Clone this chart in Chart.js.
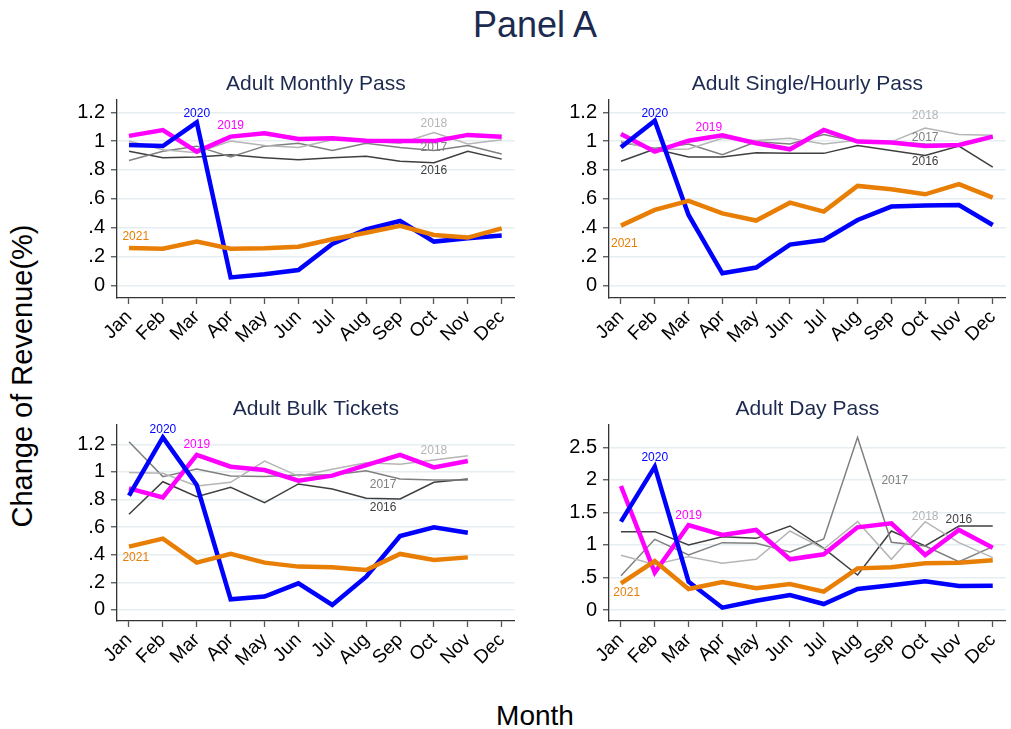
<!DOCTYPE html>
<html>
<head>
<meta charset="utf-8">
<script src="https://cdn.jsdelivr.net/npm/chart.js@4.4.1/dist/chart.umd.min.js"></script>
<style>
  body { margin: 0; background: #fff; font-family: "Liberation Sans", Arial, sans-serif; }
  #wrap { position: relative; width: 1011px; height: 729px; overflow: hidden; }
  canvas { position: absolute; }
  .txt { position: absolute; white-space: nowrap; line-height: 1; }
  #mainTitle { left: 535px; top: 25px; transform: translate(-50%, -50%); font-size: 36px; color: #1c2a4f; }
  #xTitle { left: 535px; top: 716px; transform: translate(-50%, -50%); font-size: 28px; color: #000; }
  #yTitle { left: 22px; top: 376px; transform: translate(-50%, -50%) rotate(-90deg); font-size: 29px; color: #000; }
</style>
</head>
<body>
<div id="wrap">
  <div class="txt" id="mainTitle">Panel A</div>
  <div class="txt" id="yTitle">Change of Revenue(%)</div>
  <div class="txt" id="xTitle">Month</div>
  <canvas id="c1" width="520" height="290" style="left:0;top:60px"></canvas>
  <canvas id="c2" width="491" height="290" style="left:520px;top:60px"></canvas>
  <canvas id="c3" width="520" height="330" style="left:0;top:350px"></canvas>
  <canvas id="c4" width="491" height="330" style="left:520px;top:350px"></canvas>
</div>
<script>
const months = ['Jan', 'Feb', 'Mar', 'Apr', 'May', 'Jun', 'Jul', 'Aug', 'Sep', 'Oct', 'Nov', 'Dec'];
const years = ['2016', '2017', '2018', '2019', '2020', '2021'];

// Adult Monthly Pass
const monthly2016 = [0.93, 0.885, 0.89, 0.905, 0.885, 0.87, 0.885, 0.895, 0.86, 0.85, 0.93, 0.875];
const monthly2017 = [0.865, 0.93, 0.965, 0.89, 0.965, 0.985, 0.935, 0.985, 0.955, 0.935, 0.97, 0.91];
const monthly2018 = [1.0, 0.94, 0.92, 1.0, 0.97, 0.955, 1.01, 1.0, 0.985, 1.06, 0.98, 1.01];
const monthly2019 = [1.036, 1.077, 0.927, 1.031, 1.054, 1.015, 1.02, 1.003, 1.0, 1.0, 1.043, 1.031];
const monthly2020 = [0.973, 0.966, 1.13, 0.055, 0.076, 0.106, 0.287, 0.388, 0.446, 0.303, 0.326, 0.345];
const monthly2021 = [0.259, 0.254, 0.303, 0.254, 0.257, 0.268, 0.319, 0.365, 0.412, 0.349, 0.331, 0.395];

// Adult Single/Hourly Pass
const single2016 = [0.86, 0.945, 0.89, 0.89, 0.92, 0.915, 0.915, 0.97, 0.935, 0.9, 0.965, 0.82];
const single2017 = [0.99, 0.95, 0.98, 0.905, 0.995, 0.98, 1.045, 0.995, 0.995, 0.98, 0.975, 1.03];
const single2018 = [1.0, 0.94, 0.945, 1.02, 1.005, 1.02, 0.98, 1.005, 0.995, 1.09, 1.045, 1.04];
const single2019 = [1.05, 0.927, 1.003, 1.04, 0.985, 0.943, 1.077, 0.997, 0.99, 0.966, 0.973, 1.031];
const single2020 = [0.957, 1.142, 0.488, 0.083, 0.123, 0.282, 0.314, 0.453, 0.546, 0.553, 0.557, 0.418];
const single2021 = [0.414, 0.523, 0.585, 0.499, 0.449, 0.573, 0.511, 0.689, 0.666, 0.631, 0.701, 0.608];

// Adult Bulk Tickets (no December)
const bulk2016 = [0.693, 0.929, 0.821, 0.888, 0.777, 0.913, 0.876, 0.809, 0.804, 0.925, 0.949];
const bulk2017 = [1.219, 0.966, 1.021, 0.97, 0.966, 0.978, 0.978, 1.009, 0.949, 0.942, 0.942];
const bulk2018 = [0.995, 0.99, 0.898, 0.925, 1.079, 0.97, 1.019, 1.067, 1.055, 1.086, 1.118];
const bulk2019 = [0.881, 0.816, 1.123, 1.038, 1.014, 0.937, 0.973, 1.05, 1.123, 1.033, 1.079];
const bulk2020 = [0.828, 1.25, 0.905, 0.077, 0.097, 0.193, 0.036, 0.241, 0.536, 0.599, 0.56];
const bulk2021 = [0.459, 0.517, 0.343, 0.406, 0.343, 0.314, 0.309, 0.29, 0.406, 0.362, 0.381];

// Adult Day Pass
const day2016 = [1.204, 1.204, 0.999, 1.127, 1.101, 1.291, 0.948, 0.538, 1.214, 0.984, 1.291, 1.291];
const day2017 = [0.528, 1.086, 0.845, 1.035, 1.025, 0.891, 1.091, 2.654, 1.04, 0.984, 0.743, 0.973];
const day2018 = [0.84, 0.70, 0.82, 0.717, 0.779, 1.214, 0.938, 1.358, 0.779, 1.358, 1.035, 0.804];
const day2019 = [1.906, 0.574, 1.306, 1.153, 1.23, 0.779, 0.856, 1.27, 1.332, 0.845, 1.23, 0.958];
const day2020 = [1.358, 2.203, 0.435, 0.036, 0.143, 0.231, 0.092, 0.323, 0.379, 0.441, 0.369, 0.374];
const day2021 = [0.41, 0.753, 0.323, 0.43, 0.333, 0.4, 0.282, 0.64, 0.656, 0.717, 0.727, 0.763];

const ticksSmall = [0, 0.2, 0.4, 0.6, 0.8, 1, 1.2];
const ticksDay = [0, 0.5, 1, 1.5, 2, 2.5];

const colors = {
  '2016': '#3f3f3f', '2017': '#7f7f7f', '2018': '#b5b5b5',
  '2019': '#ff00ff', '2020': '#0000ff', '2021': '#e87e04'
};
const widths = { '2016': 1.5, '2017': 1.5, '2018': 1.5, '2019': 4.5, '2020': 4.5, '2021': 4.5 };

// where each year's name sits (month number, value)
const monthlyTags = [['2020', 3, 1.19], ['2019', 4, 1.105], ['2018', 10, 1.124], ['2017', 10, 0.955], ['2016', 10, 0.795], ['2021', 1.2, 0.338]];
const singleTags = [['2020', 2, 1.188], ['2019', 3.6, 1.096], ['2018', 10, 1.175], ['2017', 10, 1.024], ['2016', 10, 0.855], ['2021', 1.1, 0.291]];
const bulkTags = [['2020', 2, 1.304], ['2019', 3, 1.2], ['2018', 10, 1.154], ['2017', 8.5, 0.905], ['2016', 8.5, 0.744], ['2021', 1.2, 0.379]];
const dayTags = [['2020', 2, 2.341], ['2019', 3, 1.445], ['2017', 9.1, 1.983], ['2018', 10, 1.434], ['2016', 11, 1.393], ['2021', 1.17, 0.266]];

const panelPlugin = {
  id: 'panelDeco',
  afterDatasetsDraw(chart, args, opts) {
    const ctx = chart.ctx;
    const xs = chart.scales.x, ys = chart.scales.y;
    ctx.save();
    ctx.font = '12px "Liberation Sans", Arial, sans-serif';
    ctx.textAlign = 'center';
    ctx.textBaseline = 'middle';
    (opts.tags || []).forEach(t => {
      ctx.fillStyle = colors[t[0]];
      ctx.fillText(t[0], xs.getPixelForValue(t[1]), ys.getPixelForValue(t[2]));
    });
    const a = chart.chartArea;
    ctx.font = '21px "Liberation Sans", Arial, sans-serif';
    ctx.fillStyle = '#1c2a4f';
    ctx.fillText(opts.title, (a.left + a.right) / 2, a.top - 16);
    ctx.restore();
  }
};

function makePanel(id, title, series, tags, yMin, yMax, yTicks, yWidth, xHeight, padTop, padRight) {
  const order = ['2021', '2020', '2019', '2018', '2017', '2016'];
  const datasets = order.map(yr => ({
    label: yr,
    data: series[yr].map((v, i) => ({ x: i + 1, y: v })),
    borderColor: colors[yr],
    borderWidth: widths[yr],
    pointRadius: 0,
    tension: 0,
    fill: false
  }));
  return new Chart(document.getElementById(id), {
    type: 'line',
    data: { datasets: datasets },
    plugins: [panelPlugin],
    options: {
      responsive: false,
      animation: false,
      layout: { padding: { top: padTop, right: padRight, left: 0, bottom: 0 } },
      plugins: {
        legend: { display: false },
        tooltip: { enabled: false },
        panelDeco: { title: title, tags: tags }
      },
      scales: {
        x: {
          type: 'linear',
          min: 0.646,
          max: 12.383,
          afterBuildTicks: s => { s.ticks = months.map((m, i) => ({ value: i + 1 })); },
          afterFit: s => { s.height = xHeight; },
          ticks: {
            callback: v => months[v - 1],
            maxRotation: 45,
            minRotation: 45,
            autoSkip: false,
            padding: 2,
            color: '#000',
            font: { family: '"Liberation Sans", Arial, sans-serif', size: 19 }
          },
          grid: { drawOnChartArea: false, tickLength: 6, tickColor: '#555', tickWidth: 1.3 },
          border: { color: '#333', width: 1.3 }
        },
        y: {
          min: yMin,
          max: yMax,
          afterBuildTicks: s => { s.ticks = yTicks.map(v => ({ value: v })); },
          afterFit: s => { s.width = yWidth; },
          ticks: {
            callback: v => v === 0 ? '0' : String(+v.toFixed(1)).replace(/^0\./, '.'),
            padding: 6,
            color: '#000',
            font: { family: '"Liberation Sans", Arial, sans-serif', size: 20 }
          },
          grid: { color: '#e6eef2', lineWidth: 1.5, tickLength: 6, tickColor: '#555', tickWidth: 1.3 },
          border: { color: '#333', width: 1.3 }
        }
      }
    }
  });
}

makePanel('c1', 'Adult Monthly Pass',
  { '2016': monthly2016, '2017': monthly2017, '2018': monthly2018, '2019': monthly2019, '2020': monthly2020, '2021': monthly2021 },
  monthlyTags, -0.088, 1.285, ticksSmall, 117, 52, 40, 5);
makePanel('c2', 'Adult Single/Hourly Pass',
  { '2016': single2016, '2017': single2017, '2018': single2018, '2019': single2019, '2020': single2020, '2021': single2021 },
  singleTags, -0.088, 1.285, ticksSmall, 89, 52, 40, 4);
makePanel('c3', 'Adult Bulk Tickets',
  { '2016': bulk2016, '2017': bulk2017, '2018': bulk2018, '2019': bulk2019, '2020': bulk2020, '2021': bulk2021 },
  bulkTags, -0.080, 1.340, ticksSmall, 117, 59, 75, 5);
makePanel('c4', 'Adult Day Pass',
  { '2016': day2016, '2017': day2017, '2018': day2018, '2019': day2019, '2020': day2020, '2021': day2021 },
  dayTags, -0.169, 2.843, ticksDay, 89, 59, 75, 4);
</script>
</body>
</html>
